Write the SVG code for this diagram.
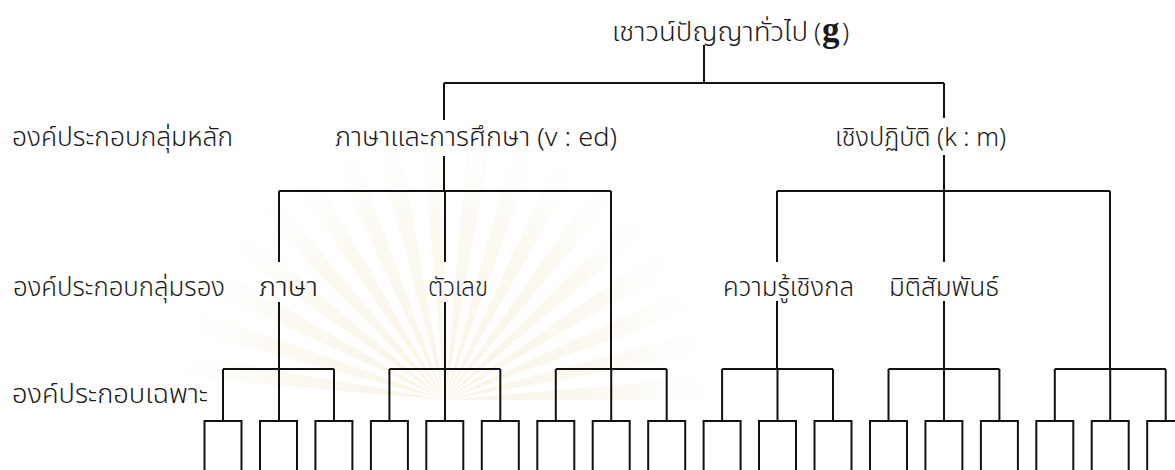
<svg xmlns="http://www.w3.org/2000/svg" width="1175" height="470" viewBox="0 0 1175 470">
<defs>
<radialGradient id="rg" gradientUnits="userSpaceOnUse" cx="445" cy="400" r="300">
<stop offset="0" stop-color="#f1e6c6" stop-opacity="0.45"/>
<stop offset="0.6" stop-color="#f5ecd4" stop-opacity="0.3"/>
<stop offset="1" stop-color="#ffffff" stop-opacity="0"/>
</radialGradient>
</defs>
<style>
.t{font-family:'Noto Sans Thai','Noto Sans Thai Looped',Garuda,Loma,'Noto Sans','DejaVu Sans',sans-serif;font-size:26px;font-weight:300;fill:#1a1a1a}
.c{fill:none;stroke:#111;stroke-width:2}
</style>
<rect width="1175" height="470" fill="#fff"/>
<path id="watermark" fill="url(#rg)" d="M445 400L715 400L714 376.5ZM445 400L710.9 353.1L705.8 330.1ZM445 400L698.7 307.7L689.7 285.9ZM445 400L678.8 265L666.2 245.1ZM445 400L651.8 226.4L635.9 209.1ZM445 400L618.6 193.2L599.9 178.8ZM445 400L580 166.2L559.1 155.3ZM445 400L537.3 146.3L514.9 139.2ZM445 400L491.9 134.1L468.5 131ZM445 400L445 130L421.5 131ZM445 400L398.1 134.1L375.1 139.2ZM445 400L352.7 146.3L330.9 155.3ZM445 400L310 166.2L290.1 178.8ZM445 400L271.4 193.2L254.1 209.1ZM445 400L238.2 226.4L223.8 245.1ZM445 400L211.2 265L200.3 285.9ZM445 400L191.3 307.7L184.2 330.1ZM445 400L179.1 353.1L176 376.5Z"/>
<g id="connectors" class="c">
<path d="M704 45V83M444 83H944M444 83V120M444 156V191M944 83V118M944 155V191"/>
<path d="M279 191H611M279 191V262M279 302V369M445 191V262M445 302V369M611 191V369"/>
<path d="M777 191H1110M777 191V262M777 301V369M944 191V262M944 301V369M1110 191V369"/>
<path d="M223 369H334M223 369V421M279 369V421M334 369V421"/>
<path d="M389.4 369H500.3M389.4 369V421M445 369V421M500.3 369V421"/>
<path d="M555.8 369H666.7M555.8 369V421M611.2 369V421M666.7 369V421"/>
<path d="M722.1 369H833M722.1 369V421M777.5 369V421M833 369V421"/>
<path d="M888.5 369H999.4M888.5 369V421M944 369V421M999.4 369V421"/>
<path d="M1054.8 369H1165.7M1054.8 369V421M1110.2 369V421M1165.7 369V421"/>
</g>
<g id="boxes" class="c">
<path d="M204.5 470V421H241.5V470M260 470V421H297V470M315.4 470V421H352.4V470"/>
<path d="M370.9 470V421H407.9V470M426.3 470V421H463.3V470M481.8 470V421H518.8V470"/>
<path d="M537.3 470V421H574.3V470M592.7 470V421H629.7V470M648.2 470V421H685.2V470"/>
<path d="M703.6 470V421H740.6V470M759 470V421H796V470M814.5 470V421H851.5V470"/>
<path d="M870 470V421H907V470M925.4 470V421H962.4V470M980.9 470V421H1017.9V470"/>
<path d="M1036.3 470V421H1073.3V470M1091.7 470V421H1128.7V470M1147.2 470V421H1184.2V470"/>
</g>
<g id="node-g">
<text class="t" x="612" y="41" textLength="196" lengthAdjust="spacingAndGlyphs">เชาวน์ปัญญาทั่วไป</text>
<text class="t" x="814" y="41">(</text>
<text x="822" y="41" style="font-family:'Liberation Serif','Times New Roman',serif;font-size:35px;font-weight:bold;fill:#1a1a1a">g</text>
<text class="t" x="842" y="41">)</text>
</g>
<g id="label-main"><text class="t" x="12" y="146" textLength="221" lengthAdjust="spacingAndGlyphs">องค์ประกอบกลุ่มหลัก</text></g>
<g id="label-sub"><text class="t" x="13" y="296" textLength="212" lengthAdjust="spacingAndGlyphs">องค์ประกอบกลุ่มรอง</text></g>
<g id="label-specific"><text class="t" x="12" y="403" textLength="196" lengthAdjust="spacingAndGlyphs">องค์ประกอบเฉพาะ</text></g>
<g id="node-ved"><text class="t" x="335" y="146" textLength="282" lengthAdjust="spacingAndGlyphs">ภาษาและการศึกษา (v : ed)</text></g>
<g id="node-km"><text class="t" x="835" y="146" textLength="171" lengthAdjust="spacingAndGlyphs">เชิงปฏิบัติ (k : m)</text></g>
<g id="node-lang"><text class="t" x="259" y="296" textLength="59" lengthAdjust="spacingAndGlyphs">ภาษา</text></g>
<g id="node-num"><text class="t" x="428" y="296" textLength="60" lengthAdjust="spacingAndGlyphs">ตัวเลข</text></g>
<g id="node-mech"><text class="t" x="723" y="296" textLength="131" lengthAdjust="spacingAndGlyphs">ความรู้เชิงกล</text></g>
<g id="node-spatial"><text class="t" x="889" y="296" textLength="110" lengthAdjust="spacingAndGlyphs">มิติสัมพันธ์</text></g>
</svg>
